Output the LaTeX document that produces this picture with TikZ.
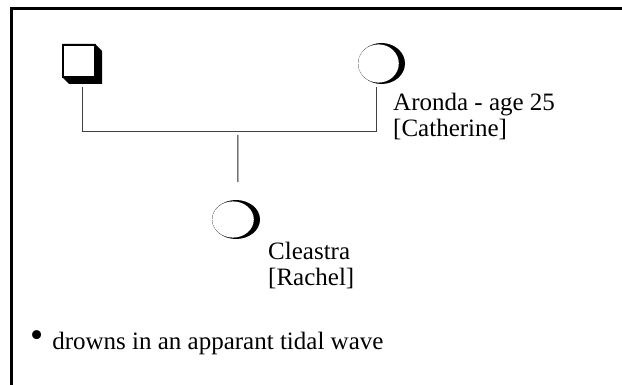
\documentclass[tikz,border=0pt]{standalone}
\usepackage{fontspec}
\setmainfont{Liberation Serif}
\usetikzlibrary{calc}
\begin{document}
\begin{tikzpicture}[x=1pt,y=-1pt,
  frame/.style={line width=3pt,line cap=butt},
  link/.style={draw=black!75,line width=1pt},
  label/.style={inner sep=0pt,anchor=base west,align=left,
    font=\fontsize{25}{26}\selectfont},
  slot/.style={inner sep=0pt,outer sep=0pt,draw=none}]
\useasboundingbox (0,0) rectangle (622,385);
% open frame: top and left edges only
\draw[frame] (622,8.5) -- (11.5,8.5) -- (11.5,385);

% invisible anchors for the three persons
\node[slot,minimum width=40pt,minimum height=40pt] (father) at (82,64) {};
\node[slot,minimum width=47pt,minimum height=41pt] (mother) at (381.5,63.5) {};
\node[slot,minimum width=48pt,minimum height=39pt] (child) at (236,219.5) {};

% father: square with a solid drop shadow
\fill (95,44) -- (102,51) -- (102,84) -- (69,84) -- (62,77) -- (62,44) -- cycle;
\filldraw[fill=white,draw=black,line width=2pt] (63,45) rectangle (95,77);

% mother: circle drawn like a pen stroke, heavier on the right
\fill (mother.center) ellipse [x radius=23.5,y radius=20.5];
\fill[white] ($(mother.center)+(-3,0)$) ellipse [x radius=20.3,y radius=19.1];

% child
\fill (child.center) ellipse [x radius=24,y radius=19.5];
\fill[white] ($(child.center)+(-3,0)$) ellipse [x radius=20.8,y radius=18.1];

% marriage and descent lines
\coordinate (ftop) at ($(father.south)+(0,3)$);
\coordinate (mtop) at ($(mother.south)+(-5.5,3)$);
\coordinate (fjoin) at (ftop |- 0,132);
\coordinate (mjoin) at (mtop |- 0,132);
\coordinate (drop) at ($(fjoin)!0.53!(mjoin)$);
\coordinate (ctop) at ($(child.north)+(2,-18)$);
\draw[link] (ftop) -- (fjoin) -- (mjoin) -- (mtop);
\draw[link,draw=black!85] ($(drop)+(0,3)$) -- (ctop);

% names (anchored at the baseline of the last line)
\node[label] (mname) at (393,137) {Aronda - age 25\\{}[Catherine]};
\node[label] (cname) at (268,286) {Cleastra\\{}[Rachel]};

% note
\node[label] (note) at (30,349) {\raisebox{1.5pt}{\scalebox{1.5}{\textbullet}}\hspace{9pt}drowns in an apparant tidal wave};
\end{tikzpicture}
\end{document}
